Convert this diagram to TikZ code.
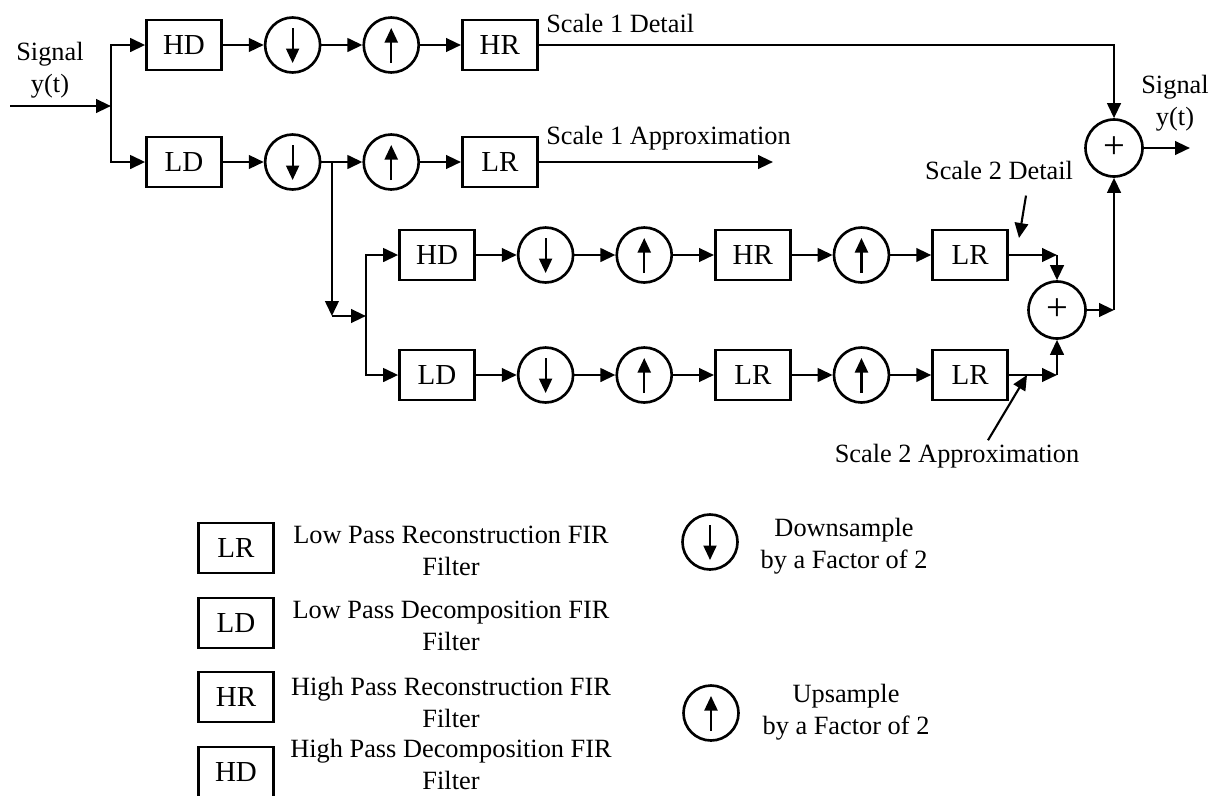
\documentclass[tikz,border=0pt]{standalone}
\usepackage{fontspec}
\setmainfont{Liberation Serif}
\usetikzlibrary{arrows.meta, positioning, calc}

\begin{document}
\begin{tikzpicture}[
        x=0.02cm, y=-0.02cm,
        node distance=0.82cm,
        >={Triangle[length=0.3cm, width=0.27cm]},
        line width=1.5pt,
        font=\fontsize{15}{18.2}\selectfont,
        filt/.style={
            rectangle,
            draw,
            minimum width=1.5cm,
            minimum height=1cm,
            font=\fontsize{16.5}{18}\selectfont
        },
        smp/.style={
            circle,
            draw,
            minimum size=1.1cm
        },
        dsmp/.style={
            smp,
            path picture={\draw[line width=1.2pt, -{Triangle[length=0.29cm, width=0.26cm]}]
                ($(path picture bounding box.center)+(0,0.34cm)$) --
                ($(path picture bounding box.center)+(0,-0.36cm)$);}
        },
        usmp/.style={
            smp,
            path picture={\draw[line width=1.2pt, -{Triangle[length=0.29cm, width=0.26cm]}]
                ($(path picture bounding box.center)+(0,-0.36cm)$) --
                ($(path picture bounding box.center)+(0,0.34cm)$);}
        },
        sum/.style={
            circle,
            draw,
            minimum size=1.14cm,
            inner sep=0pt,
            font=\fontsize{22}{22}\selectfont
        },
        lbl/.style={
            align=center,
            inner sep=0pt
        }
    ]
    \useasboundingbox (0,0) rectangle (1219,795);

    % scale 1
    \node[filt] (hd1) at (184,45) {HD};
    \node[dsmp, right=of hd1] (dn1) {};
    \node[usmp, right=of dn1] (up1) {};
    \node[filt, right=of up1] (hr1) {HR};

    \node[filt] (ld1) at (184,162) {LD};
    \node[dsmp, right=of ld1] (dn2) {};
    \node[usmp, right=of dn2] (up2) {};
    \node[filt, right=of up2] (lr1) {LR};

    % scale 2
    \node[filt] (hd2) at (437,255) {HD};
    \node[dsmp, right=of hd2] (dn3) {};
    \node[usmp, right=of dn3] (up3) {};
    \node[filt, right=of up3] (hr2) {HR};
    \node[usmp, right=of hr2] (up4) {};
    \node[filt, right=of up4] (lr2) {LR};

    \node[filt] (ld2) at (437,375) {LD};
    \node[dsmp, right=of ld2] (dn4) {};
    \node[usmp, right=of dn4] (up5) {};
    \node[filt, right=of up5] (lr3) {LR};
    \node[usmp, right=of lr3] (up6) {};
    \node[filt, right=of up6] (lr4) {LR};

    \node[sum] (sum2) at (1057,310) {+};
    \node[sum] (sum1) at (1114,148) {+};

    \coordinate (in) at (10,106);
    \coordinate (j1) at (111,106);
    \coordinate (b1) at ($(dn2.east)+(0.21cm,0)$);
    \coordinate (b2) at (b1 |- 0,316);
    \coordinate (j2) at (366,316);
    \coordinate (a1) at (773,162);
    \coordinate (out) at (1190,148);

    % labels
    \node[lbl] (sigin) at (50,70) {Signal\\y(t)};
    \node[lbl] (sigout) at (1175,103) {Signal\\y(t)};
    \node[lbl, anchor=west] (s1d) at (545,23) {Scale 1 Detail};
    \node[lbl, anchor=west] (s1a) at (545,138) {Scale 1 Approximation};
    \node[lbl] (s2d) at (999,170) {Scale 2 Detail};
    \node[lbl] (s2a) at (957,456) {Scale 2 Approximation};
    \coordinate (s2dtip) at (1019,238);
    \coordinate (s2atip) at (1027,375);

    % connections
    \draw[->] (in) -- (j1);
    \draw[->] (j1) |- (hd1);
    \draw[->] (j1) |- (ld1);
    \draw[->] (hd1) -- (dn1);
    \draw[->] (dn1) -- (up1);
    \draw[->] (up1) -- (hr1);
    \draw[->] (ld1) -- (dn2);
    \draw[->] (dn2) -- (up2);
    \draw[->] (up2) -- (lr1);
    \draw[->] (hr1) -| (sum1);
    \draw[->] (lr1) -- (lr1 -| a1);

    \draw[->] (b1) -- (b2);
    \draw[->] (b2) -- (j2);
    \draw[->] (j2) |- (hd2);
    \draw[->] (j2) |- (ld2);
    \draw[->] (hd2) -- (dn3);
    \draw[->] (dn3) -- (up3);
    \draw[->] (up3) -- (hr2);
    \draw[->] (hr2) -- (up4);
    \draw[->] (up4) -- (lr2);
    \draw[->] (ld2) -- (dn4);
    \draw[->] (dn4) -- (up5);
    \draw[->] (up5) -- (lr3);
    \draw[->] (lr3) -- (up6);
    \draw[->] (up6) -- (lr4);

    \draw[->] (lr2) -- (lr2 -| sum2);
    \draw[->] (lr2 -| sum2) -- (sum2);
    \draw[->] (lr4) -- (lr4 -| sum2);
    \draw[->] (lr4 -| sum2) -- (sum2);
    \draw[->] (sum2) -- (sum2 -| sum1);
    \draw[->] (sum2 -| sum1) -- (sum1);
    \draw[->] (sum1) -- (out);

    \draw[->, line width=1.2pt] ($(s2d.south)+(0.54cm,-0.3cm)$) -- (s2dtip);
    \draw[->, line width=1.2pt] ($(s2a.north)+(0.62cm,0.05cm)$) -- (s2atip);

    % legend
    \node[filt] (klr) at (236,548) {LR};
    \node[lbl] (tlr) at (451,551) {Low Pass Reconstruction FIR\\Filter};
    \node[filt] (kld) at (236,623) {LD};
    \node[lbl] (tld) at (451,626) {Low Pass Decomposition FIR\\Filter};
    \node[filt] (khr) at (236,697) {HR};
    \node[lbl] (thr) at (451,702) {High Pass Reconstruction FIR\\Filter};
    \node[filt] (khd) at (236,772) {HD};
    \node[lbl] (thd) at (451,764) {High Pass Decomposition FIR\\Filter};

    \node[dsmp] (kdn) at (710,542) {};
    \node[lbl] (tdn) at (844,546) {Downsample\\by a Factor of 2};
    \node[usmp] (kup) at (711,713) {};
    \node[lbl] (tup) at (846,712) {Upsample\\by a Factor of 2};
\end{tikzpicture}
\end{document}
